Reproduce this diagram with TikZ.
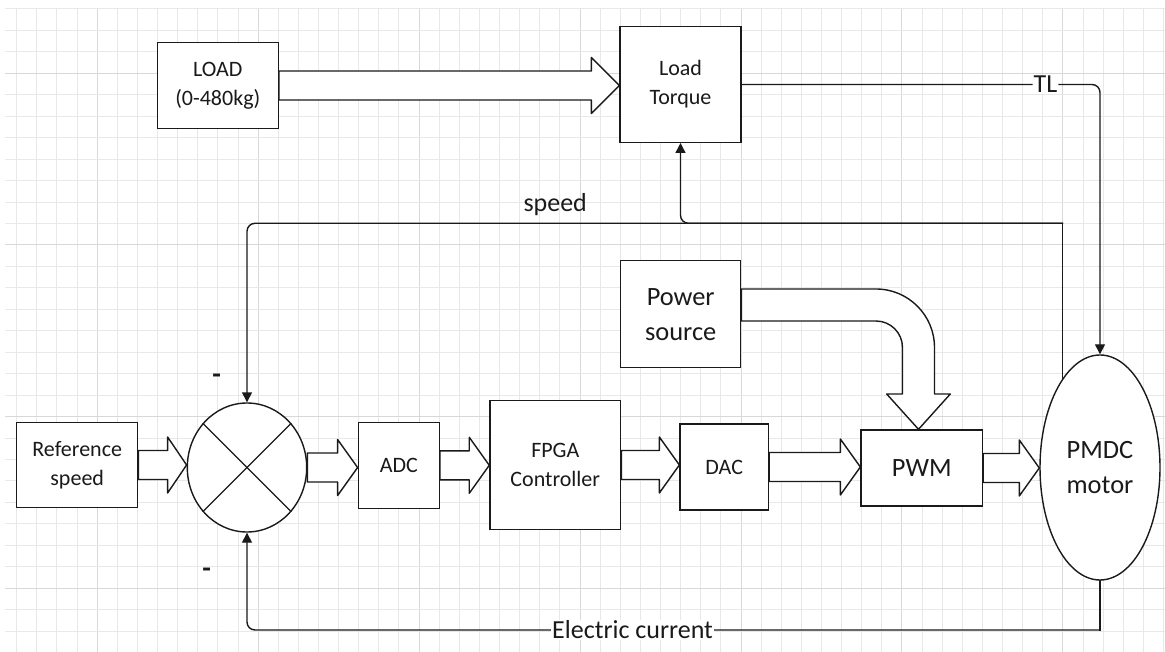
\documentclass[tikz,border=0pt]{standalone}
\usepackage{fontspec}
\setmainfont{Carlito}
\usetikzlibrary{arrows.meta,shapes.geometric,calc}
\definecolor{ink}{HTML}{1A1A1A}
\definecolor{gridminor}{HTML}{E8E8E8}
\definecolor{gridmajor}{HTML}{D8D8D8}
\pgfdeclarelayer{gridlayer}
\pgfdeclarelayer{arrowlayer}
\pgfsetlayers{gridlayer,arrowlayer,main}
\tikzset{
  blk/.style={draw=ink, line width=1.4pt, fill=white, text=ink, align=center, inner sep=0pt,
    font=\fontsize{22}{29}\selectfont},
  bigtxt/.style={font=\fontsize{26.4}{35}\selectfont},
  ell/.style={blk, ellipse},
  conn/.style={draw=ink, line width=1.4pt, line cap=rect},
  arr/.style={conn, -{Triangle[length=10pt,width=10pt]}},
  fat/.style={draw=ink, line width=1.4pt, fill=white, line join=round},
  lbl/.style={fill=white, text=ink, inner sep=1pt, font=\fontsize{26}{30}\selectfont},
  freelbl/.style={text=ink, inner sep=3pt, font=\fontsize{26}{30}\selectfont},
  minus/.style={text=ink, inner sep=0pt, font=\fontsize{28}{30}\selectfont\bfseries},
  gmin/.style={draw=gridminor, line width=1pt},
  gmaj/.style={draw=gridmajor, line width=1pt},
}
\newcommand\fatarrow[3]{%
  \draw[fat] let \p1=(#1.east), \p2=(#2.west) in
    (\x1,{\y1+14.5pt}) -- ({\x2-#3},{\y1+14.5pt}) -- ({\x2-#3},{\y1+28pt}) -- (\x2,\y1)
    -- ({\x2-#3},{\y1-28pt}) -- ({\x2-#3},{\y1-14.5pt}) -- (\x1,{\y1-14.5pt}) -- cycle;}
\begin{document}
\begin{tikzpicture}[x=1pt,y=-1pt]
\useasboundingbox (0,0) rectangle (1165,652);
\begin{pgfonlayer}{gridlayer}
\fill[white] (0,0) rectangle (1165,652);
\foreach \i in {0,...,57} {
  \pgfmathtruncatemacro\m{mod(\i+4,8)}
  \ifnum\m=0 \draw[gmaj] ({16.7+20.12*\i},9) -- ({16.7+20.12*\i},652);
  \else \draw[gmin] ({16.7+20.12*\i},9) -- ({16.7+20.12*\i},652); \fi
}
\foreach \j in {0,...,29} {
  \pgfmathtruncatemacro\m{mod(\j+5,8)}
  \ifnum\m=0 \draw[gmaj] (5,{9+21.45*\j}) -- (1165,{9+21.45*\j});
  \else \draw[gmin] (5,{9+21.45*\j}) -- (1165,{9+21.45*\j}); \fi
}
\end{pgfonlayer}
% nodes
\node[blk, minimum width=121pt, minimum height=85.6pt] (load) at (217.8,85.5) {LOAD\\(0-480kg)};
\node[blk, minimum width=121pt, minimum height=115.6pt] (torque) at (680.5,84.5) {Load\\Torque};
\node[blk, bigtxt, minimum width=120pt, minimum height=107pt] (power) at (680.7,314.2) {Power\\source};
\node[blk, minimum width=121pt, minimum height=85.4pt] (ref) at (77.2,465) {Reference\\speed};
\node[ell, minimum width=119.4pt, minimum height=129pt] (sum) at (247,467.5) {};
\node[blk, minimum width=81pt, minimum height=86pt] (adc) at (398.8,465.3) {ADC};
\node[blk, minimum width=130.7pt, minimum height=128.6pt] (fpga) at (555.3,465) {FPGA\\Controller};
\node[blk, minimum width=88.3pt, minimum height=86pt] (dac) at (724.2,467) {DAC};
\node[blk, bigtxt, minimum width=121.3pt, minimum height=76pt] (pwm) at (921.7,468) {PWM};
\node[ell, bigtxt, minimum width=120pt, minimum height=225pt] (pmdc) at (1100,467.5) {PMDC\\motor};
% cross in summing junction
\draw[conn, line cap=butt] (sum.135) -- (sum.-45);
\draw[conn, line cap=butt] (sum.45) -- (sum.-135);
% block arrows
\begin{pgfonlayer}{arrowlayer}
\fatarrow{load}{torque}{28pt}
\fatarrow{ref}{sum}{19pt}
\fatarrow{sum}{adc}{20pt}
\fatarrow{adc}{fpga}{20pt}
\fatarrow{fpga}{dac}{20pt}
\fatarrow{dac}{pwm}{20pt}
\fatarrow{pwm}{pmdc}{20pt}
\draw[fat] (power.east |- 0,289) -- (876,289)
  .. controls (908.3,289) and (934.5,315.2) .. (934.5,347.5) -- (934.5,394) -- (950.3,394)
  -- (918.5,394 |- pwm.north) -- (886.7,394) -- (902.5,394) -- (902.5,347.5)
  .. controls (902.5,332.9) and (890.6,321) .. (876,321) -- (power.east |- 0,321) -- cycle;
\end{pgfonlayer}
% TL connector
\draw[arr, rounded corners=8pt] (torque.east) -| node[pos=0.424, lbl] {TL} (pmdc.north);
% speed feedback
\coordinate (sp) at (pmdc.113 |- 0,223.3);
\draw[conn] (pmdc.113) -- (sp);
\draw[arr, rounded corners=8pt] (sp) -| node[pos=0.311, above=4pt, freelbl] {speed} (sum.north);
\draw[arr, rounded corners=8pt] (sp) -| (torque.south);
% electric current feedback
\coordinate (ec) at (pmdc.south |- 0,630);
\draw[conn] (pmdc.south) -- (ec);
\draw[arr, rounded corners=8pt] (ec) -| node[pos=0.274, lbl] {Electric current} (sum.south);
% minus signs
\node[minus] (m1) at (216.7,379) {-};
\node[minus] (m2) at (206.7,572.3) {-};
\end{tikzpicture}
\end{document}
